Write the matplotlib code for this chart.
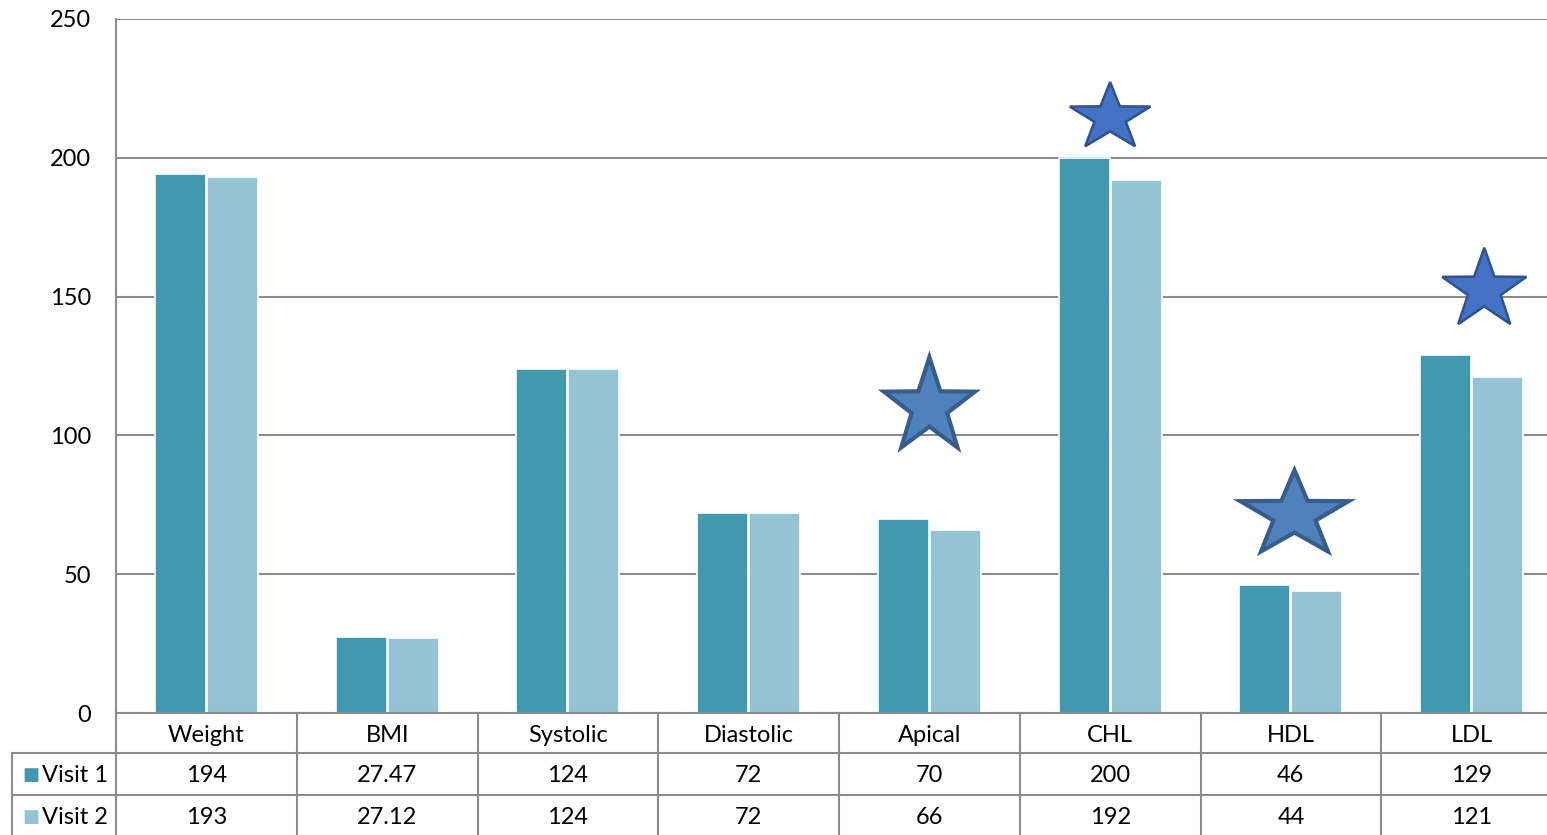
import numpy as np
import matplotlib.pyplot as plt
from matplotlib.patches import Polygon
from matplotlib.lines import Line2D
import matplotlib.transforms as mtransforms

plt.rcParams['font.family'] = ['Lato', 'DejaVu Sans']

categories = ['Weight', 'BMI', 'Systolic', 'Diastolic', 'Apical', 'CHL', 'HDL', 'LDL']
visit1 = [194, 27.47, 124, 72, 70, 200, 46, 129]
visit2 = [193, 27.12, 124, 72, 66, 192, 44, 121]
visit1_txt = ['194', '27.47', '124', '72', '70', '200', '46', '129']
visit2_txt = ['193', '27.12', '124', '72', '66', '192', '44', '121']
series_names = ['Visit 1', 'Visit 2']

# star markers: (x in category units, y value, x radius, y radius, fill, edge, lw)
stars = [
    (4.00, 110.2, 0.265, 18.0, '#4F81BD', '#385D8A', 3.0),
    (5.00, 214.5, 0.235, 12.8, '#4472C4', '#2F528F', 1.8),
    (6.02, 71.3, 0.315, 16.2, '#4F81BD', '#385D8A', 3.0),
    (7.07, 152.4, 0.245, 15.2, '#4472C4', '#2F528F', 1.8),
]

c1 = '#4298AF'
c2 = '#93C3D4'
grid_c = '#8C8C8C'
fs = 17

W, H = 1547, 835
fig = plt.figure(figsize=(W / 100, H / 100), dpi=100)
ax_left, ax_right = 116 / W, 1562 / W
ax_bot, ax_top = 1 - 713 / H, 1 - 19 / H
ax = fig.add_axes([ax_left, ax_bot, ax_right - ax_left, ax_top - ax_bot])

x = np.arange(len(categories))
bw = 0.282
off = 0.144
ax.bar(x - off, visit1, width=bw, color=c1, edgecolor='white', linewidth=1.2, zorder=3)
ax.bar(x + off, visit2, width=bw, color=c2, edgecolor='white', linewidth=1.2, zorder=3)

ax.set_xlim(-0.5, len(categories) - 0.5)
ax.set_ylim(0, 250)
ax.set_yticks([0, 50, 100, 150, 200, 250])
ax.set_xticks([])
ax.tick_params(axis='y', length=0, pad=18, labelsize=fs)
ax.yaxis.grid(True, color=grid_c, linewidth=1.5, zorder=0)
ax.set_axisbelow(True)
for s in ['top', 'right', 'bottom']:
    ax.spines[s].set_visible(False)
ax.spines['left'].set_color(grid_c)
ax.spines['left'].set_linewidth(1.5)

# stars
t = np.linspace(0, 2 * np.pi, 11)[:-1] + np.pi / 2
rad = np.where(np.arange(10) % 2 == 0, 1.0, 0.39)
for sx, sy, rx, ry, fc, ec, lw in stars:
    pts = np.column_stack([sx + rx * rad * np.cos(t), sy + ry * rad * np.sin(t)])
    ax.add_patch(Polygon(pts, closed=True, facecolor=fc, edgecolor=ec,
                         linewidth=lw, joinstyle='miter', zorder=5))

# data table below the axes
trans = mtransforms.blended_transform_factory(ax.transData, ax.transAxes)
ah = 713 - 19
def yax(py):
    return (713 - py) / ah

row_edges = [713, 753, 795, 840]
row_text_y = [735, 775, 817]
xl = -0.5 - (116 - 12) / 180.75
xr = len(categories) - 0.5
lkw = dict(color=grid_c, linewidth=1.5, transform=trans, clip_on=False)
fig.add_artist(Line2D([-0.5, xr], [yax(713)] * 2, **lkw))
for py in row_edges[1:3]:
    fig.add_artist(Line2D([xl, xr], [yax(py)] * 2, **lkw))
fig.add_artist(Line2D([xl, xl], [yax(753), yax(840)], **lkw))
for i in range(len(categories) + 1):
    fig.add_artist(Line2D([i - 0.5, i - 0.5], [yax(713), yax(840)], **lkw))

rows = [categories, visit1_txt, visit2_txt]
for r, vals in enumerate(rows):
    yc = yax(row_text_y[r])
    for i, v in enumerate(vals):
        ax.text(i, yc, v, transform=trans, ha='center', va='center',
                fontsize=fs, clip_on=False)

for k, (name, col) in enumerate(zip(series_names, [c1, c2])):
    py = row_text_y[k + 1]
    fig.text(22 / W, 1 - py / H, '\u25A0', color=col,
             fontsize=13, ha='left', va='center', family='DejaVu Sans')
    fig.text(42 / W, 1 - py / H, name,
             fontsize=fs, ha='left', va='center')

fig.savefig('out.png', dpi=100)
